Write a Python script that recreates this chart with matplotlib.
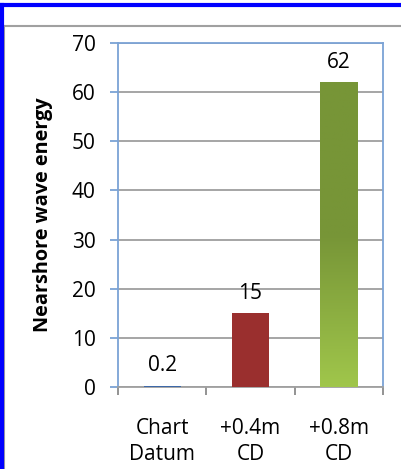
import matplotlib
matplotlib.use("Agg")
import matplotlib.pyplot as plt
import numpy as np
from matplotlib.lines import Line2D
from matplotlib.colors import LinearSegmentedColormap

categories = ["Chart\nDatum", "+0.4m\nCD", "+0.8m\nCD"]
values = [0.2, 15, 62]
value_labels = ["0.2", "15", "62"]
colors = ["#3D68A8", "#9A2F2E", "#77933C"]
yticks = [0, 10, 20, 30, 40, 50, 60, 70]

plt.rcParams['font.family'] = ['Open Sans', 'DejaVu Sans']

W, H = 401, 469
fig = plt.figure(figsize=(W / 100, H / 100), dpi=100)
fig.patch.set_facecolor("white")

def fx(px):
    return px / W

def fy(py):
    return 1 - py / H

ax = fig.add_axes([fx(118), fy(387), fx(383) - fx(118), fy(43) - fy(387)])

x = np.arange(len(categories))
bars = ax.bar(x, values, width=0.42, color=colors, zorder=3)

# gradient on the last bar
grad = LinearSegmentedColormap.from_list("g", ["#A0C64B", "#779537", "#779537"])
b = bars[2]
img = ax.imshow(np.linspace(0, 1, 256).reshape(-1, 1), cmap=grad, aspect="auto",
                origin="lower", extent=[b.get_x(), b.get_x() + b.get_width(), 0, b.get_height()],
                zorder=4)
img.set_clip_path(b)

fs = 15
for i, v in enumerate(values):
    ax.annotate(value_labels[i], (x[i], v), xytext=(0, 7), textcoords="offset points",
                ha="center", va="bottom", fontsize=fs, color="black")

ax.set_xlim(-0.5, 2.5)
ax.set_ylim(0, 70)
ax.set_yticks(yticks)
ax.set_xticks([-0.5, 0.5, 1.5, 2.5], minor=False)
ax.set_xticklabels([])
ax.set_xticks(x, minor=True)
ax.set_xticklabels(categories, minor=True, fontsize=fs, linespacing=1.36)
ax.tick_params(axis="x", which="minor", length=0, pad=22)
ax.tick_params(axis="x", which="major", length=6, color="#808080", width=1.2)
ax.tick_params(axis="y", length=6, color="#6F9BD1", width=1.2, pad=10, labelsize=fs)

ax.grid(axis="y", color="#A5A5A5", linewidth=1.4, zorder=0)
ax.set_axisbelow(True)
for s in ax.spines.values():
    s.set_color("#7BA3D6")
    s.set_linewidth(1.3)
ax.spines["bottom"].set_color("#A0A0A0")

ax.set_ylabel("Nearshore wave energy", fontsize=14.3, fontweight="bold")
ax.yaxis.set_label_coords(fx(53 - 118) / (fx(383) - fx(118)), 0.5)

# outer frames
fig.add_artist(Line2D([fx(4), fx(4)], [fy(26), 0], color="#A0A0A0", lw=1.5))
fig.add_artist(Line2D([fx(4), 1], [fy(26), fy(26)], color="#A0A0A0", lw=1.5))
fig.add_artist(Line2D([fx(1.5), fx(1.5)], [fy(5), 0], color="#0000FF", lw=3))
fig.add_artist(Line2D([0, 1], [fy(5.5), fy(5.5)], color="#0000FF", lw=3))

fig.savefig("out.png", dpi=100)
